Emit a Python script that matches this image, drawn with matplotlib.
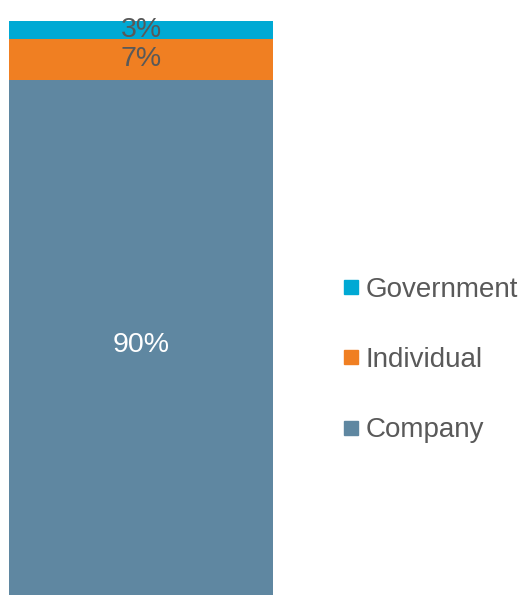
import matplotlib as mpl
import matplotlib.pyplot as plt
from matplotlib.lines import Line2D

mpl.rcParams['font.family'] = ['Liberation Sans', 'DejaVu Sans']

categories = ['Company', 'Individual', 'Government']
shares = [90, 7, 3]
colors = ['#5F87A1', '#F07F22', '#00A9D4']
label_colors = ['white', '#595959', '#595959']

fig = plt.figure(figsize=(5.28, 5.95), dpi=100)
# bar runs a little past the bottom edge of the picture
ax = fig.add_axes([9 / 528, -16 / 595, 264 / 528, 590 / 595])

bottom = 0
for cat, val, col, lc in zip(categories, shares, colors, label_colors):
    ax.bar(0, val, width=1, bottom=bottom, color=col, label=cat)
    ax.text(0, bottom + val / 2, '{}%'.format(val), ha='center', va='center',
            color=lc, fontsize=20.5)
    bottom += val

ax.set_xlim(-0.5, 0.5)
ax.set_ylim(0, 100)
ax.axis('off')

handles = [Line2D([], [], marker='s', linestyle='none', color=c, markersize=9.4)
           for c in colors[::-1]]
fig.legend(handles, categories[::-1], loc='center left',
           bbox_to_anchor=(318 / 528, 1 - 360 / 595), frameon=False,
           fontsize=20, labelcolor='#595959', handlelength=0.6,
           handletextpad=0.2, labelspacing=1.6)

fig.savefig('out.png', dpi=100)
